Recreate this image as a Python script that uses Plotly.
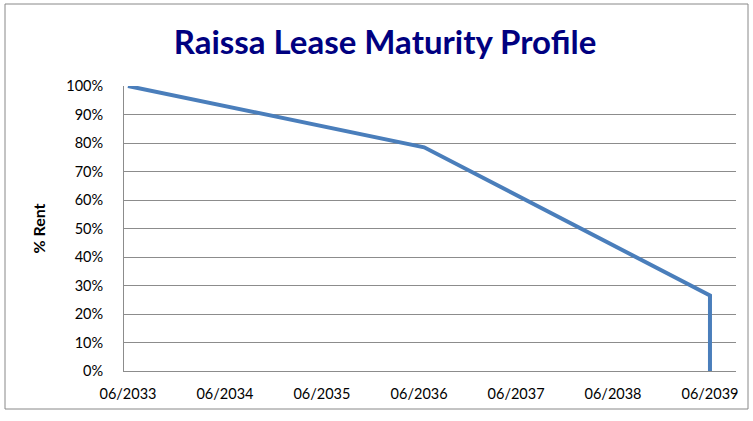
import plotly.graph_objects as go

dates = ["2033-06-01", "2036-06-20", "2039-06-01", "2039-06-01"]
rent_pct = [100, 78.5, 26.5, 0]
tick_dates = ["2033-06-01", "2034-06-01", "2035-06-01", "2036-06-01",
              "2037-06-01", "2038-06-01", "2039-06-01"]
tick_labels = ["06/2033", "06/2034", "06/2035", "06/2036", "06/2037", "06/2038", "06/2039"]
y_ticks = [0, 10, 20, 30, 40, 50, 60, 70, 80, 90, 100]
y_labels = [f"{v}%" for v in y_ticks]

FONT = "Lato"
grid = "#8c8c8c"

fig = go.Figure()
fig.add_trace(go.Scatter(x=dates, y=rent_pct, mode="lines",
                         line=dict(color="#4a7ebb", width=4), hoverinfo="skip"))

fig.update_layout(
    width=753, height=421,
    margin=dict(l=124, r=17, t=86, b=50),
    paper_bgcolor="white", plot_bgcolor="white",
    showlegend=False,
    title=dict(text="<b>Raissa Lease Maturity Profile</b>", x=385 / 753, xanchor="center",
               y=1 - 42 / 421, yanchor="middle",
               font=dict(family=FONT, size=33, color="#000080")),
    font=dict(family=FONT, size=14.5, color="black"),
    xaxis=dict(type="date", range=["2033-05-17", "2039-09-07"],
               tickvals=tick_dates, ticktext=tick_labels, tickangle=0,
               showgrid=False, showline=True, linecolor=grid, linewidth=1,
               ticks="outside", ticklen=10, tickcolor="rgba(0,0,0,0)",
               zeroline=False, fixedrange=True),
    yaxis=dict(range=[0, 100], tickvals=y_ticks, ticktext=y_labels,
               showgrid=True, gridcolor=grid, gridwidth=1,
               showline=True, linecolor=grid, linewidth=1,
               ticks="outside", ticklen=17, tickcolor="rgba(0,0,0,0)",
               zeroline=False, fixedrange=True,
               title=dict(text="<b>% Rent</b>", standoff=16,
                          font=dict(family=FONT, size=16, color="black"))),
    shapes=[dict(type="rect", xref="paper", yref="paper",
                 x0=(5 - 124) / 612, x1=(748 - 124) / 612,
                 y0=(371 - 409) / 285, y1=(371 - 4) / 285,
                 line=dict(color="#888888", width=1), fillcolor="rgba(0,0,0,0)",
                 layer="below")],
)

fig.write_html("out.html", config={"displayModeBar": False},
               post_script="document.body.style.margin='0px';")
